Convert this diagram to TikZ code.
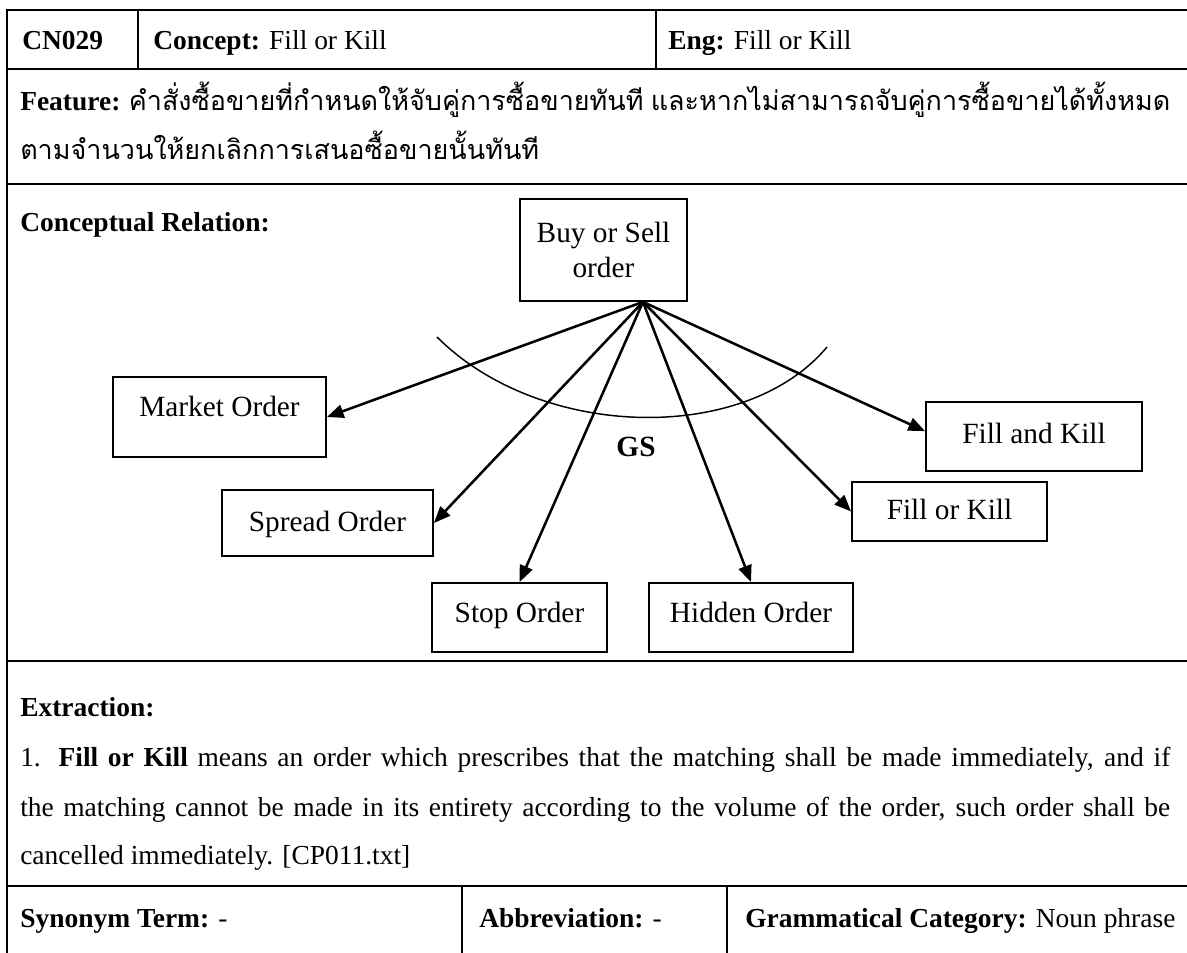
\documentclass[tikz,border=0pt]{standalone}
\usepackage{fontspec}
\setmainfont{Liberation Serif}
\newfontfamily\thaifont[Script=Thai]{Loma}
\usetikzlibrary{arrows.meta}
\newdimen\pxu \pxu=0.75pt

\begin{document}
\begin{tikzpicture}[x=0.75pt,y=-0.75pt,
  rule/.style={line width=1.9pt},
  cell/.style={anchor=base west, inner sep=0pt, font=\fontsize{20.6}{24}\selectfont},
  thai/.style={font=\thaifont\fontsize{20.2}{24}\selectfont},
  concept/.style={draw, line width=1.4pt, inner sep=0pt, align=center,
    font=\fontsize{22}{26.5}\selectfont},
  link/.style={line width=1.9pt, -{Triangle[length=12.5pt,width=10pt]}},
  bound/.style={line width=1.1pt}]
  \useasboundingbox (0,0) rectangle (1187,952);
  \fill[white] (0,0) rectangle (1187,952);
  \clip (0,0) rectangle (1187,952);

  % table rules
  \draw[rule] (6,10) -- (1200,10);
  \draw[rule] (6,69) -- (1200,69);
  \draw[rule] (6,184) -- (1200,184);
  \draw[rule] (6,661) -- (1200,661);
  \draw[rule] (6,886) -- (1200,886);
  \draw[rule] (7,9) -- (7,960);
  \draw[rule] (138,10) -- (138,69);
  \draw[rule] (656,10) -- (656,69);
  \draw[rule] (462,886) -- (462,960);
  \draw[rule] (727,886) -- (727,960);

  % header row
  \node[cell] (id) at (22,50) {\textbf{CN029}};
  \node[cell] (cpt) at (153,50) {\textbf{Concept:} Fill or Kill};
  \node[cell] (eng) at (668,50) {\textbf{Eng:} Fill or Kill};

  % feature
  \node[cell] (feat1) at (20,111) {\makebox[1150\pxu][s]{\textbf{Feature:} {\thaifont\fontsize{20.2}{24}\selectfont คำสั่งซื้อขายที่กำหนดให้จับคู่การซื้อขายทันที และหากไม่สามารถจับคู่การซื้อขายได้ทั้งหมด}}};
  \node[cell, thai] (feat2) at (20,160) {ตามจำนวนให้ยกเลิกการเสนอซื้อขายนั้นทันที};

  % conceptual relation
  \node[cell] (crel) at (20,231) {\textbf{Conceptual Relation:}};

  \node[concept, minimum width=167\pxu, minimum height=102\pxu] (buy) at (603.5,250) {Buy or Sell\\order};
  \node[concept, minimum width=213\pxu, minimum height=80\pxu, text height=15pt, text depth=16pt] (market) at (219.5,417) {Market Order};
  \node[concept, minimum width=216\pxu, minimum height=69\pxu, text height=15pt, text depth=4pt] (fak) at (1034,436.5) {Fill and Kill};
  \node[concept, minimum width=211\pxu, minimum height=66\pxu, text height=15pt, text depth=3pt] (spread) at (327.5,523) {Spread Order};
  \node[concept, minimum width=195\pxu, minimum height=59\pxu, text height=15pt, text depth=3pt] (fok) at (949.5,511.5) {Fill or Kill};
  \node[concept, minimum width=175\pxu, minimum height=69\pxu, text height=15pt, text depth=7pt] (stop) at (519.5,617.5) {Stop Order};
  \node[concept, minimum width=204\pxu, minimum height=69\pxu, text height=15pt, text depth=7pt] (hidden) at (751,617.5) {Hidden Order};

  \coordinate (hub) at ([xshift=29.6pt]buy.south);
  \draw[link] (hub) -- (market.east);
  \draw[link] (hub) -- (spread.east);
  \draw[link] (hub) -- (stop.north);
  \draw[link] (hub) -- (hidden.north);
  \draw[link] (hub) -- (fok.west);
  \draw[link] (hub) -- ([yshift=4pt]fak.west);

  % generalisation arc
  \coordinate (gsL) at (437,337);
  \coordinate (gsR) at (827,347);
  \draw[bound] (gsL) .. controls (540,440) and (745,445) .. (gsR);
  \node[inner sep=0pt, font=\fontsize{22}{26}\selectfont\bfseries] (gs) at (636,447) {GS};

  % extraction
  \node[cell] (ext) at (20,716) {\textbf{Extraction:}};
  \node[cell] (ex1) at (20,766) {\makebox[1150\pxu][s]{1. \textbf{Fill or Kill} means an order which prescribes that the matching shall be made immediately, and if}};
  \node[cell] (ex2) at (20,816) {\makebox[1150\pxu][s]{the matching cannot be made in its entirety according to the volume of the order, such order shall be}};
  \node[cell] (ex3) at (20,864) {cancelled immediately. [CP011.txt]};

  % bottom row
  \node[cell] (syn) at (20,927) {\textbf{Synonym Term:} -};
  \node[cell] (abbr) at (479,927) {\textbf{Abbreviation:} -};
  \node[cell] (gram) at (745,927) {\textbf{Grammatical Category:} Noun phrase};
\end{tikzpicture}
\end{document}
